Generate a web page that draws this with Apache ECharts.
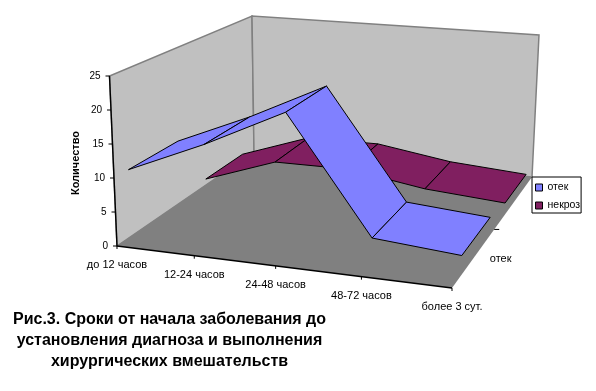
<!DOCTYPE html>
<html><head><meta charset="utf-8">
<style>html,body{margin:0;padding:0;background:#fff}#c{width:596px;height:391px}</style>
<script src="https://cdn.jsdelivr.net/npm/echarts@6/dist/echarts.min.js"></script>
</head><body><div id="c"></div>
<script>
const categories = ['до 12 часов','12-24 часов','24-48 часов','48-72 часов','более 3 сут.'];
const seriesNames = ['отек','некроз'];
const otek = [10,15,21,4,3];
const nekroz = [1,5,5,3,2];
const valueTicks = [0,5,10,15,20,25];
const valueMax = 25;

const FLOOR = [[117,246],[452,288],[532,177],[254,152]];
const TOP = [[109.5,76],[464,111],[539,35],[252,16]];
const BANDS = {otek:[0.085,0.405], nekroz:[0.60,0.9]};
const COLORS = {otek:'#8080FF', nekroz:'#801F60', wall:'#C0C0C0', floor:'#808080', edge:'#808080'};
const FONT = 'Liberation Sans, Arial, sans-serif';

function quad(q){
  const [[x0,y0],[x1,y1],[x2,y2],[x3,y3]]=q;
  const dx1=x1-x2,dx2=x3-x2,sx=x0-x1+x2-x3,dy1=y1-y2,dy2=y3-y2,sy=y0-y1+y2-y3;
  const den=dx1*dy2-dx2*dy1, g=(sx*dy2-dx2*sy)/den, h=(dx1*sy-sx*dy1)/den;
  const a=x1-x0+g*x1,b=x3-x0+h*x3,d=y1-y0+g*y1,e=y3-y0+h*y3;
  return (u,v)=>{const w=g*u+h*v+1;return [(a*u+b*v+x0)/w,(d*u+e*v+y0)/w];};
}
const floorMap=quad(FLOOR), topMap=quad(TOP);
const lastCat=categories.length-1;
function project(catPos,depth,value){
  const u=catPos/lastCat, t=value/valueMax;
  const f=floorMap(u,depth), p=topMap(u,depth);
  return [f[0]+(p[0]-f[0])*t, f[1]+(p[1]-f[1])*t];
}
function pts(api,list){return list.map(p=>api.coord(p));}
function poly(api,list,fill,stroke,w){
  return {type:'polygon',shape:{points:pts(api,list)},style:{fill:fill,stroke:stroke||null,lineWidth:w||1}};
}
function line(api,a,b,color,w){
  const A=api.coord(a),B=api.coord(b);
  return {type:'line',shape:{x1:A[0],y1:A[1],x2:B[0],y2:B[1]},style:{stroke:color,lineWidth:w||1}};
}
function label(api,p,text,align,opts){
  const c=api.coord(p);
  return {type:'text',x:c[0],y:c[1],style:Object.assign({text:text,fill:'#000',font:'11px '+FONT,textAlign:align||'center',textVerticalAlign:'middle'},opts||{})};
}
function ribbon(values,band,color){
  return function(params,api){
    const i=params.dataIndex;
    if(i>=lastCat) return {type:'group',children:[]};
    const a=values[i],b=values[i+1];
    return poly(api,[project(i,band[0],a),project(i+1,band[0],b),project(i+1,band[1],b),project(i,band[1],a)],color,'#000');
  };
}
function frame(params,api){
  const ch=[];
  ch.push(poly(api,[project(0,0,0),project(0,0,valueMax),project(0,1,valueMax),project(0,1,0)],COLORS.wall,COLORS.edge,1.5));
  ch.push(poly(api,[project(0,1,0),project(0,1,valueMax),project(lastCat,1,valueMax),project(lastCat,1,0)],COLORS.wall,COLORS.edge,1.5));
  ch.push(poly(api,[project(0,0,0),project(lastCat,0,0),project(lastCat,1,0),project(0,1,0)],COLORS.floor));
  return {type:'group',children:ch};
}
function axes(params,api){
  const ch=[];
  ch.push(line(api,project(0,0,0),project(0,0,valueMax),'#000',1.4));
  ch.push(line(api,project(0,0,0),project(lastCat,0,0),'#000',1.4));
  valueTicks.forEach(v=>{
    const p=project(0,0,v);
    ch.push(line(api,p,[p[0]-4,p[1]],'#000',1));
    ch.push(label(api,[p[0]-9,p[1]],String(v),'right',{font:'10px '+FONT}));
  });
  categories.forEach((c,i)=>{
    const p=project(i,0,0);
    ch.push(line(api,p,[p[0],p[1]+3],'#000',1));
    ch.push(label(api,[p[0],p[1]+19],c));
  });
  const t=project(lastCat,0.47,0);
  ch.push(line(api,t,[t[0]+5,t[1]],'#000',1));
  const e=project(lastCat,0.25,0);
  ch.push(label(api,[e[0]+25,e[1]+4],seriesNames[0]));
  return {type:'group',children:ch};
}
const catData=categories.map((c,i)=>[i]);
const chart=echarts.init(document.getElementById('c'),null,{renderer:'canvas'});
chart.setOption({
  animation:false,
  backgroundColor:'#fff',
  grid:{left:0,right:0,top:0,bottom:0},
  xAxis:{type:'value',min:0,max:596,show:false},
  yAxis:{type:'value',min:0,max:391,inverse:true,show:false},
  title:{text:'Рис.3. Сроки от начала заболевания до\nустановления диагноза и выполнения\nхирургических вмешательств',
    left:164.5,top:304,textAlign:'center',
    textStyle:{fontFamily:FONT,fontSize:16,fontWeight:'bold',lineHeight:21,color:'#000',align:'center'}},
  legend:{data:seriesNames,orient:'vertical',left:532,top:177,itemWidth:7,itemHeight:7,itemGap:7,padding:[5,1,2,3],
    borderColor:'#000',borderWidth:1,backgroundColor:'#fff',icon:'rect',itemStyle:{borderColor:'#000',borderWidth:1},
    textStyle:{fontFamily:FONT,fontSize:10.5,color:'#000'},selectedMode:false},
  graphic:[{type:'text',x:76,y:163,rotation:Math.PI/2,style:{text:'Количество',fill:'#000',font:'bold 11px '+FONT,textAlign:'center',textVerticalAlign:'middle'}}],
  series:[
    {type:'custom',name:'frame',coordinateSystem:'cartesian2d',data:[[0]],renderItem:frame,silent:true,clip:false,z:1},
    {type:'custom',name:'axes',coordinateSystem:'cartesian2d',data:[[0]],renderItem:axes,silent:true,clip:false,z:2},
    {type:'custom',name:seriesNames[1],coordinateSystem:'cartesian2d',data:catData,renderItem:ribbon(nekroz,BANDS.nekroz,COLORS.nekroz),itemStyle:{color:COLORS.nekroz},silent:true,clip:false,z:3},
    {type:'custom',name:seriesNames[0],coordinateSystem:'cartesian2d',data:catData,renderItem:ribbon(otek,BANDS.otek,COLORS.otek),itemStyle:{color:COLORS.otek},silent:true,clip:false,z:4}
  ]
});
</script></body></html>
